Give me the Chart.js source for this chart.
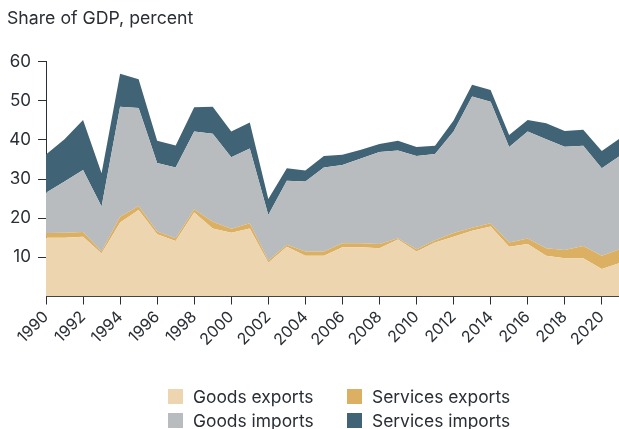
<!DOCTYPE html>
<html>
<head>
<meta charset="utf-8">
<script src="https://cdn.jsdelivr.net/npm/chart.js@4"></script>
<style>
  html, body { margin: 0; padding: 0; background: #fff; overflow: hidden; }
  body { width: 619px; height: 429px; position: relative; font-family: Inter, "Noto Sans", sans-serif; }
  #wrap { position: absolute; left: 0; top: 0; width: 619px; height: 360px; }
  .legend { position: absolute; left: 0; top: 0; width: 619px; height: 429px; pointer-events: none; }
  .item { position: absolute; font-size: 17.4px; color: #2a2f35; line-height: 20px; white-space: nowrap; }
  .item span.box { position: absolute; left: 0; top: 2px; width: 15px; height: 15px; }
  .item span.lbl { position: absolute; left: 25px; top: 0; }
</style>
</head>
<body>
<div id="wrap"><canvas id="c" width="619" height="360"></canvas></div>
<div class="legend" id="legend"></div>
<script>
const years = [1990,1991,1992,1993,1994,1995,1996,1997,1998,1999,2000,2001,2002,2003,2004,2005,2006,2007,2008,2009,2010,2011,2012,2013,2014,2015,2016,2017,2018,2019,2020,2021];
const goodsExports    = [15.0,15.0,15.3,11.0,18.9,22.1,15.9,14.2,21.5,17.4,16.3,17.4, 8.6,12.7,10.4,10.4,12.6,12.6,12.3,14.6,11.5,13.8,15.3,16.8,17.9,12.7,13.4,10.4, 9.8, 9.8, 7.0, 8.6];
const servicesExports = [ 1.2, 1.3, 1.2, 0.5, 1.5, 1.0, 0.7, 0.7, 0.8, 1.7, 1.0, 1.3, 0.6, 0.5, 1.1, 1.1, 1.0, 1.0, 1.1, 0.3, 0.6, 0.6, 0.9, 0.8, 0.8, 1.1, 1.4, 1.9, 2.1, 3.1, 3.4, 3.5];
const goodsImports    = [10.3,13.1,15.8,11.5,28.1,25.1,17.5,18.1,19.9,22.5,18.3,19.1,11.6,16.4,17.9,21.5,20.0,21.7,23.5,22.4,23.8,22.0,26.0,33.5,31.1,24.4,27.4,27.9,26.4,25.6,22.4,23.9];
const servicesImports = [ 9.8,10.8,12.8, 8.5, 8.4, 7.3, 5.7, 5.6, 6.2, 6.9, 6.6, 6.7, 4.1, 3.2, 2.8, 2.9, 2.6, 2.2, 2.1, 2.5, 2.3, 2.1, 2.8, 3.0, 3.0, 3.1, 2.9, 4.1, 4.0, 4.1, 4.4, 4.5];
const seriesNames = ["Goods exports","Services exports","Goods imports","Services imports"];
const yTicks = [10,20,30,40,50,60];
const xTickStep = 2;

const colors = ["#edd5af","#dcb062","#b8bcbf","#406376"];
const txt = "#2a2f35";
const allSeries = [goodsExports, servicesExports, goodsImports, servicesImports];

const datasets = allSeries.map((arr, k) => ({
  label: seriesNames[k],
  data: years.map((yr, i) => ({ x: yr, y: arr[i] })),
  backgroundColor: colors[k],
  borderColor: colors[k],
  borderWidth: 0,
  pointRadius: 0,
  tension: 0,
  fill: k === 0 ? 'origin' : '-1'
}));

new Chart(document.getElementById('c'), {
  type: 'line',
  data: { datasets },
  options: {
    responsive: false,
    animation: false,
    layout: { padding: { left: 7, right: 0, top: 0, bottom: 0 } },
    plugins: {
      legend: { display: false },
      tooltip: { enabled: false },
      title: {
        display: true,
        text: 'Share of GDP, percent',
        align: 'start',
        color: txt,
        font: { family: 'Inter', size: 17.7, weight: 'normal' },
        padding: { top: 8, bottom: 32.5 }
      }
    },
    scales: {
      x: {
        type: 'linear',
        min: years[0],
        max: 2020.93,
        afterFit: (s) => { s.height = 63.5; },
        afterBuildTicks: (s) => {
          s.ticks = [];
          for (let v = years[0]; v <= 2020; v += xTickStep) s.ticks.push({ value: v });
        },
        ticks: {
          includeBounds: false,
          autoSkip: false,
          minRotation: 45,
          maxRotation: 45,
          padding: 3,
          color: txt,
          font: { family: 'Inter', size: 16 },
          callback: (v) => String(v)
        },
        grid: { drawOnChartArea: false, drawTicks: true, tickLength: 8, color: txt, tickColor: txt },
        border: { display: true, color: txt, width: 1 }
      },
      y: {
        stacked: true,
        min: 0,
        max: 60,
        afterFit: (s) => { s.width = 39; },
        afterBuildTicks: (s) => { s.ticks = yTicks.map(v => ({ value: v })); },
        ticks: {
          padding: 7,
          color: txt,
          font: { family: 'Inter', size: 17 }
        },
        grid: { drawOnChartArea: false, drawTicks: true, tickLength: 8, color: txt, tickColor: txt },
        border: { display: true, color: txt, width: 1 }
      }
    }
  }
});

// HTML legend (two columns)
const legend = document.getElementById('legend');
const pos = [[168,387],[347,387],[168,411],[347,411]];
[0,1,2,3].forEach((k, j) => {
  const d = document.createElement('div');
  d.className = 'item';
  d.style.left = pos[j][0] + 'px';
  d.style.top = pos[j][1] + 'px';
  d.innerHTML = '<span class="box" style="background:' + colors[k] + '"></span><span class="lbl">' + seriesNames[k] + '</span>';
  legend.appendChild(d);
});
</script>
</body>
</html>
